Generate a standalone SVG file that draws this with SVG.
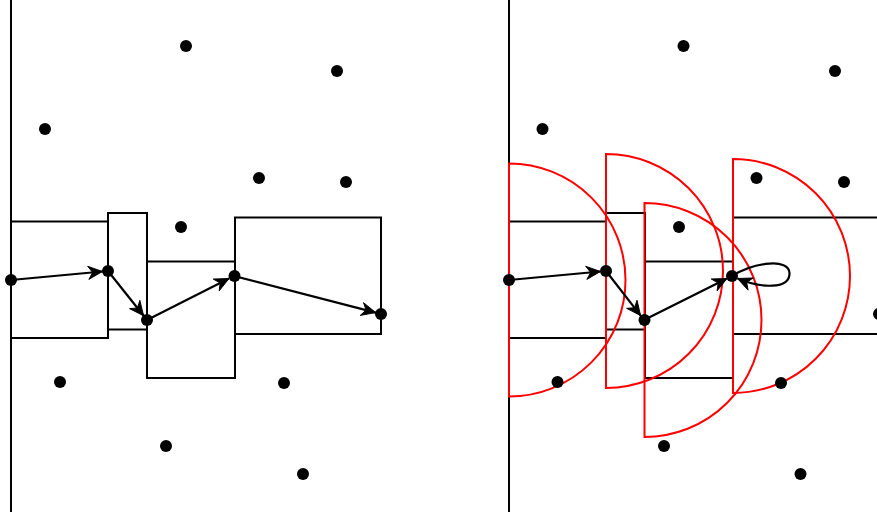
<svg xmlns="http://www.w3.org/2000/svg" width="877" height="517" viewBox="0 0 877 517">
<style>
.ax{stroke:#000;stroke-width:2;fill:none}
.box{stroke:#000;stroke-width:2;fill:none}
.semi{stroke:#f00;stroke-width:2;fill:none}
.edge{stroke:#000;stroke-width:2.2;fill:none;marker-end:url(#arr)}
.pt{fill:#000}
</style>
<defs>
<marker id="arr" markerWidth="8" markerHeight="7" refX="6.5" refY="3" orient="auto" overflow="visible">
<path d="M0,0 L6.5,3 L0,6 L2,3 z" fill="#000" stroke="#000" stroke-width="0.4" stroke-linejoin="miter"/>
</marker>
</defs>
<rect width="877" height="517" fill="#fff"/>
<g id="axes">
<line class="ax" x1="11" y1="0" x2="11" y2="512"/>
<line class="ax" x1="509" y1="0" x2="509" y2="512"/>
</g>
<g id="boxes-left">
<rect class="box" x="11" y="221.5" width="97" height="116.5"/>
<rect class="box" x="108" y="213" width="39" height="116.5"/>
<rect class="box" x="147" y="261.5" width="88" height="116.5"/>
<rect class="box" x="235" y="217.5" width="146" height="116.5"/>
</g>
<g id="boxes-right">
<rect class="box" x="509" y="221.5" width="97" height="116.5"/>
<rect class="box" x="606" y="213" width="39" height="116.5"/>
<rect class="box" x="645" y="261.5" width="88" height="116.5"/>
<rect class="box" x="733" y="217.5" width="146" height="116.5"/>
</g>
<g id="semicircles">
<path class="semi" d="M509,163.5 A116.5,116.5 0 0 1 509,396.5 Z"/>
<path class="semi" d="M606,154 A117,117 0 0 1 606,388 Z"/>
<path class="semi" d="M644.5,203 A117,117 0 0 1 644.5,437 Z"/>
<path class="semi" d="M733,159 A117,117 0 0 1 733,393 Z"/>
</g>
<g id="connectors">
<line class="edge" x1="11" y1="280" x2="102.5" y2="271.5"/>
<line class="edge" x1="108" y1="271" x2="143.6" y2="315.7"/>
<line class="edge" x1="147" y1="320" x2="229" y2="278.5"/>
<line class="edge" x1="234" y1="276" x2="375.7" y2="312.6"/>
<line class="edge" x1="509" y1="280" x2="600.5" y2="271.5"/>
<line class="edge" x1="606" y1="271" x2="640.6" y2="315.6"/>
<line class="edge" x1="644" y1="320" x2="727" y2="278.5"/>
<path class="edge" d="M732,276 C755,262 789,258 789.5,273 C790,290 760,288 737.5,278.5"/>
</g>
<g id="nodes">
<circle class="pt" cx="11" cy="280" r="6"/>
<circle class="pt" cx="108" cy="271" r="6"/>
<circle class="pt" cx="147" cy="320" r="6"/>
<circle class="pt" cx="234.5" cy="276" r="6"/>
<circle class="pt" cx="381" cy="314" r="6"/>
<circle class="pt" cx="186" cy="46" r="6"/>
<circle class="pt" cx="337" cy="71" r="6"/>
<circle class="pt" cx="45" cy="129" r="6"/>
<circle class="pt" cx="259" cy="178" r="6"/>
<circle class="pt" cx="346" cy="182" r="6"/>
<circle class="pt" cx="181" cy="227" r="6"/>
<circle class="pt" cx="60" cy="382" r="6"/>
<circle class="pt" cx="284" cy="383" r="6"/>
<circle class="pt" cx="166" cy="446" r="6"/>
<circle class="pt" cx="303" cy="474" r="6"/>
<circle class="pt" cx="509" cy="280" r="6"/>
<circle class="pt" cx="606" cy="271" r="6"/>
<circle class="pt" cx="644.5" cy="320" r="6"/>
<circle class="pt" cx="732" cy="276" r="6"/>
<circle class="pt" cx="879" cy="314" r="6"/>
<circle class="pt" cx="683.5" cy="46" r="6"/>
<circle class="pt" cx="835" cy="71" r="6"/>
<circle class="pt" cx="542.5" cy="129" r="6"/>
<circle class="pt" cx="756.5" cy="178" r="6"/>
<circle class="pt" cx="844" cy="182" r="6"/>
<circle class="pt" cx="679" cy="227" r="6"/>
<circle class="pt" cx="557.5" cy="382" r="6"/>
<circle class="pt" cx="781" cy="383" r="6"/>
<circle class="pt" cx="664" cy="446" r="6"/>
<circle class="pt" cx="800.5" cy="474" r="6"/>
</g>
</svg>
